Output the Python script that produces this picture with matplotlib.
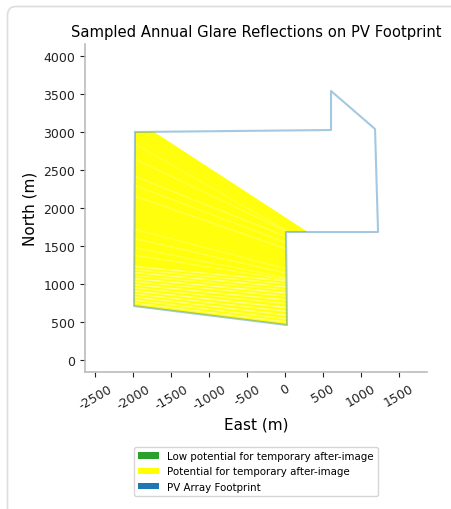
import matplotlib
matplotlib.use("Agg")
import matplotlib.pyplot as plt
from matplotlib.patches import Polygon, Patch, FancyBboxPatch

plt.rcParams["axes.unicode_minus"] = False

# PV array footprint outline (east, north in metres)
footprint_east = [-1974, 605, 605, 1184, 1224, 13, 26, -1987, -1974]
footprint_north = [3000, 3026, 3540, 3040, 1684, 1684, 460, 710, 3000]

# Area on the footprint receiving sampled glare reflections
glare_east = [-1974, -1720, 300, 13, 26, -1987]
glare_north = [3000, 3000, 1684, 1684, 460, 710]

# Lighter reflection streaks crossing the glare area (west edge -> east edge)
streak_west_n = [1230, 1190, 1150, 1110, 1070, 1030, 990, 950, 910, 870, 830, 790, 750,
                 2160, 2300, 2420, 1720, 1600, 1480, 1380, 2650, 2850]
streak_east_n = [1040, 1000, 960, 920, 880, 840, 790, 740, 690, 640, 590, 540, 500,
                 1460, 1540, 1620, 1200, 1140, 1080, 1060, 1690, 1700]
streak_alpha = [0.45, 0.35, 0.5, 0.3, 0.55, 0.4, 0.5, 0.35, 0.55, 0.45, 0.5, 0.4, 0.45,
                0.25, 0.2, 0.25, 0.2, 0.25, 0.2, 0.25, 0.2, 0.15]
streak_west_e = -1985
streak_east_e = 25

x_ticks = [-2500, -2000, -1500, -1000, -500, 0, 500, 1000, 1500]
y_ticks = [0, 500, 1000, 1500, 2000, 2500, 3000, 3500, 4000]

fig = plt.figure(figsize=(4.51, 5.10), dpi=100)

# card frame around the figure
card = FancyBboxPatch((7.5 / 451, -0.05), 1.2, 1 - 7.5 / 510 + 0.05,
                      boxstyle="round,pad=0,rounding_size=0.018",
                      transform=fig.transFigure, facecolor="white",
                      edgecolor="#dddddd", linewidth=1.2, zorder=-10)
fig.patches.append(card)

ax = fig.add_axes([85 / 451, 1 - 373 / 510, (427 - 85) / 451, (373 - 45) / 510])
ax.set_facecolor("none")

glare = Polygon(list(zip(glare_east, glare_north)), closed=True,
                facecolor="#ffff00", edgecolor="none", alpha=0.95, zorder=2)
ax.add_patch(glare)

for wn, en, a in zip(streak_west_n, streak_east_n, streak_alpha):
    ln, = ax.plot([streak_west_e, streak_east_e], [wn, en], color="white",
                  alpha=a, lw=1.0, zorder=3, solid_capstyle="butt")
    ln.set_clip_path(glare)

ax.plot(footprint_east, footprint_north, color="#1f77b4", alpha=0.4,
        lw=1.5, zorder=4)

ax.set_xlim(-2632, 1868)
ax.set_ylim(-158, 4158)
ax.set_xticks(x_ticks)
ax.set_yticks(y_ticks)
ax.tick_params(axis="both", labelsize=9, colors="#222222")
for lbl in ax.get_xticklabels():
    lbl.set_rotation(30)
    lbl.set_ha("center")
ax.spines["top"].set_visible(False)
ax.spines["right"].set_visible(False)
ax.spines["left"].set_color("#bbbbbb")
ax.spines["bottom"].set_color("#bbbbbb")
ax.spines["left"].set_linewidth(1.2)
ax.spines["bottom"].set_linewidth(1.2)

ax.set_title("Sampled Annual Glare Reflections on PV Footprint", fontsize=10.6)
ax.set_xlabel("East (m)", fontsize=11)
ax.set_ylabel("North (m)", fontsize=11)

handles = [Patch(facecolor="#2ca02c", label="Low potential for temporary after-image"),
           Patch(facecolor="#ffff00", label="Potential for temporary after-image"),
           Patch(facecolor="#1f77b4", label="PV Array Footprint")]
fig.legend(handles=handles, loc="upper center", bbox_to_anchor=(256 / 451, 1 - 443 / 510),
           fontsize=7.4, frameon=True, handlelength=2.0, handleheight=0.6)

fig.savefig("out.png", dpi=100)
